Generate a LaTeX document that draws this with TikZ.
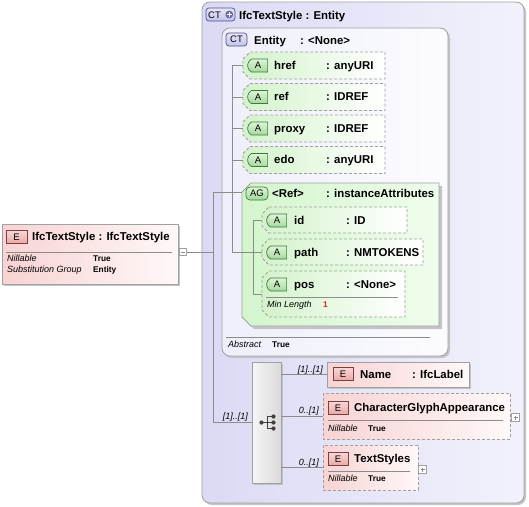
\documentclass[tikz,border=0pt]{standalone}
\usepackage{fontspec}
\setmainfont{Liberation Sans}
\usetikzlibrary{fit,shapes.misc}
\definecolor{lavL}{HTML}{DADAF5}
\definecolor{lavR}{HTML}{F2F2FC}
\definecolor{ctinL}{HTML}{EFEFFB}
\definecolor{ctinR}{HTML}{FBFBFF}
\definecolor{grnL}{HTML}{D3F3CB}
\definecolor{grnR}{HTML}{FFFFFF}
\definecolor{agL}{HTML}{D3F5CC}
\definecolor{agR}{HTML}{EFFDEC}
\definecolor{pnkL}{HTML}{F8D3D3}
\definecolor{pnkR}{HTML}{FFF8F8}
\definecolor{bordg}{HTML}{A0A0A0}
\definecolor{lineg}{HTML}{8C8C8C}
\definecolor{shad}{HTML}{C4C4C8}
\definecolor{ctbT}{HTML}{E6E6FA}
\definecolor{ctbB}{HTML}{C2C2EA}
\definecolor{ctbord}{HTML}{50508A}
\definecolor{abT}{HTML}{DDF5D6}
\definecolor{abB}{HTML}{A6D89E}
\definecolor{abord}{HTML}{3D7A3D}
\definecolor{ebT}{HTML}{F9D6D6}
\definecolor{ebB}{HTML}{EAA8A8}
\definecolor{ebord}{HTML}{7A4040}
\definecolor{seqL}{HTML}{F6F6F6}
\definecolor{seqR}{HTML}{DADADA}
\definecolor{minred}{HTML}{E02020}
\definecolor{icon}{HTML}{404040}

\newcommand\chambox[6]{% style x1 y1 x2 y2 chamfer
  \path[#1] (#2+#6,#3) -- (#4,#3) -- (#4,#5) -- (#2+#6,#5) -- (#2,#5-#6) -- (#2,#3+#6) -- cycle;}

\begin{document}
\begin{tikzpicture}[x=1pt,y=-1pt,
  tt/.style={font=\fontsize{11.4}{13}\selectfont\bfseries, inner sep=0, anchor=base west},
  lab/.style={font=\fontsize{9}{10}\selectfont\itshape, inner sep=0, anchor=base west},
  val/.style={font=\fontsize{8.3}{10}\selectfont\bfseries, inner sep=0, anchor=base west},
  card/.style={font=\fontsize{9}{10}\selectfont\itshape, inner sep=0, anchor=base east},
  btxt/.style={font=\fontsize{9.5}{10}\selectfont, inner sep=0},
  conn/.style={draw=lineg, line width=0.8pt},
  sepl/.style={draw=lineg, line width=0.7pt},
  hold/.style={inner sep=0, draw=none},
  shadowfill/.style={fill=shad, draw=none},
  attrbox/.style={left color=grnL, right color=grnR, draw=bordg, line width=0.8pt, dash pattern=on 3pt off 2pt},
  elemsolid/.style={left color=pnkL, right color=pnkR, draw=bordg, line width=0.8pt},
  elemdash/.style={left color=pnkL, right color=pnkR, draw=bordg, line width=0.8pt, dash pattern=on 3pt off 2pt},
  abadge/.style={rounded rectangle, rounded rectangle right arc=none, rounded rectangle arc length=120, top color=abT, bottom color=abB, draw=abord, line width=0.7pt, minimum width=20, minimum height=13, inner sep=0, font=\fontsize{9.5}{10}\selectfont},
  agbadge/.style={rectangle, rounded corners=4, top color=abT, bottom color=abB, draw=abord, line width=0.7pt, minimum width=22, minimum height=13, inner sep=0, font=\fontsize{9.5}{10}\selectfont},
  ctbadge/.style={rectangle, rounded corners=3, top color=ctbT, bottom color=ctbB, draw=ctbord, line width=0.7pt, minimum height=13, inner sep=0, font=\fontsize{9.5}{10}\selectfont},
  ebadge/.style={rectangle, top color=ebT, bottom color=ebB, draw=ebord, line width=0.7pt, minimum width=20, minimum height=13, inner sep=0, font=\fontsize{9.5}{10}\selectfont},
  pmbox/.style={rectangle, fill=white, draw=bordg, line width=0.6pt, minimum size=7.5, inner sep=0},
]
\useasboundingbox (0,0) rectangle (529,506);
\fill[white] (0,0) rectangle (529,506);

% ---------- outer complex type ----------
\fill[shad, rounded corners=8] (204,4) rectangle (526,505);
\path[left color=lavL, right color=lavR, draw=bordg, line width=0.8pt, rounded corners=8] (202,2) rectangle (524,503);
\node[hold, fit={(202,2)(524,503)}] (ctOuter) {};
\node[ctbadge, minimum width=29] (ctOuterB) at (220.5,14.5) {};
\node[btxt, text=black] at (214.5,14.8) {CT};
\fill[ctbord!85] (229.3,14.5) circle (3.9);
\draw[white, line width=1.3pt] (226.8,14.5) -- (231.8,14.5) (229.3,12) -- (229.3,17);
\node[tt] (ctOuterT) at (239,19) {IfcTextStyle : Entity};

% ---------- Entity complex type ----------
\fill[shad, rounded corners=8] (224,30) rectangle (450,358);
\path[left color=ctinL, right color=ctinR, draw=bordg, line width=0.8pt, rounded corners=8] (222,28) rectangle (448,356);
\node[hold, fit={(222,28)(448,356)}] (ctEnt) {};
\node[ctbadge, minimum width=21] (ctEntB) at (236.5,39.5) {CT};
\node[tt] at (254,44) {Entity};
\node[tt] at (300,44) {: <None>};
\draw[sepl] (226,337) -- (430,337);
\node[lab] at (228,347) {Abstract};
\node[val] at (272,347) {True};

% ---------- attributes ----------
\chambox{attrbox}{243}{52}{385}{79}{7}
\node[hold, fit={(243,52)(385,79)}] (href) {};
\node[abadge] at (258,65.5) {A};
\node[tt] at (274,69) {href};
\node[tt] at (326,69) {: anyURI};

\chambox{attrbox}{243}{83.5}{385}{110.5}{7}
\node[hold, fit={(243,83.5)(385,110.5)}] (ref) {};
\node[abadge] at (258,97) {A};
\node[tt] at (274,100.5) {ref};
\node[tt] at (326,100.5) {: IDREF};

\chambox{attrbox}{243}{115}{385}{142}{7}
\node[hold, fit={(243,115)(385,142)}] (proxy) {};
\node[abadge] at (258,128.5) {A};
\node[tt] at (274,132) {proxy};
\node[tt] at (326,132) {: IDREF};

\chambox{attrbox}{243}{146.5}{385}{173.5}{7}
\node[hold, fit={(243,146.5)(385,173.5)}] (edo) {};
\node[abadge] at (258,160) {A};
\node[tt] at (274,163.5) {edo};
\node[tt] at (326,163.5) {: anyURI};

% ---------- attribute group ----------
\chambox{shadowfill}{245}{186}{442}{329}{9}
\chambox{left color=agL, right color=agR, draw=bordg, line width=0.8pt}{242}{183}{439}{326}{9}
\node[hold, fit={(242,183)(439,326)}] (ag) {};
\node[agbadge] (agB) at (257,193.5) {AG};
\node[tt] at (272,197.5) {<Ref>};
\node[tt] at (326,197.5) {: instanceAttributes};

\chambox{attrbox}{262}{207}{407}{233}{7}
\node[hold, fit={(262,207)(407,233)}] (id) {};
\node[abadge] at (277,220.5) {A};
\node[tt] at (294,224) {id};
\node[tt] at (346,224) {: ID};

\chambox{attrbox}{262}{239}{423}{265}{7}
\node[hold, fit={(262,239)(423,265)}] (path) {};
\node[abadge] at (277,252.5) {A};
\node[tt] at (294,256) {path};
\node[tt] at (346,256) {: NMTOKENS};

\chambox{attrbox}{262}{271}{405}{317}{7}
\node[hold, fit={(262,271)(405,317)}] (pos) {};
\node[abadge] at (277,284.5) {A};
\node[tt] at (294,288) {pos};
\node[tt] at (346,288) {: <None>};
\draw[sepl] (266,297) -- (398,297);
\node[lab] at (267,307) {Min Length};
\node[val, text=minred] at (323,307) {1};

% ---------- root element ----------
\fill[shad] (4,226) rectangle (180,286);
\path[elemsolid] (2,224) rectangle (178,284);
\node[hold, fit={(2,224)(178,284)}] (elem) {};
\node[ebadge, minimum width=21] (elemB) at (16.5,237) {E};
\node[tt] at (32,240.5) {IfcTextStyle : IfcTextStyle};
\draw[sepl] (6,252) -- (172,252);
\node[lab] at (7,261) {Nillable};
\node[val] at (93,261) {True};
\node[lab] at (7,272) {Substitution Group};
\node[val] at (93,272) {Entity};
\node[pmbox] (elemMinus) at (183,252) {};
\draw[lineg, line width=0.6pt] (181,252) -- (185,252);

% ---------- sequence ----------
\fill[shad] (254,364) rectangle (283,485);
\path[left color=seqL, right color=seqR, draw=bordg, line width=0.8pt] (252,362) rectangle (281,483);
\node[hold, fit={(252,362)(281,483)}] (seq) {};
\draw[icon, line width=0.8pt] (261.5,422.5) -- (267,422.5) (267,416.5) -- (267,428.5)
  (267,416.5) -- (273.5,416.5) (267,422.5) -- (273.5,422.5) (267,428.5) -- (273.5,428.5);
\fill[icon] (261.5,422.5) circle (2.1) (273.5,416.5) circle (2.1) (273.5,422.5) circle (2.1) (273.5,428.5) circle (2.1);

% ---------- child elements ----------
\fill[shad] (329,364) rectangle (471,389);
\path[elemsolid] (327,362) rectangle (469,387);
\node[hold, fit={(327,362)(469,387)}] (name) {};
\node[ebadge] at (343,374) {E};
\node[tt] at (360,378) {Name};
\node[tt] at (412,378) {: IfcLabel};

\path[elemdash] (323,393) rectangle (510,439);
\node[hold, fit={(323,393)(510,439)}] (cga) {};
\node[ebadge] at (338,408) {E};
\node[tt] at (354,411.5) {CharacterGlyphAppearance};
\draw[sepl] (328,420) -- (503,420);
\node[lab] at (328,431.5) {Nillable};
\node[val] at (368,431.5) {True};
\node[pmbox] (cgaPlus) at (515.5,417.5) {};
\draw[lineg, line width=0.6pt] (513.5,417.5) -- (517.5,417.5) (515.5,415.5) -- (515.5,419.5);

\path[elemdash] (323,445) rectangle (418,490);
\node[hold, fit={(323,445)(418,490)}] (ts) {};
\node[ebadge] at (338,459) {E};
\node[tt] at (354,462.5) {TextStyles};
\draw[sepl] (328,471) -- (410,471);
\node[lab] at (328,481.5) {Nillable};
\node[val] at (368,481.5) {True};
\node[pmbox] (tsPlus) at (422.5,469.5) {};
\draw[lineg, line width=0.6pt] (420.5,469.5) -- (424.5,469.5) (422.5,467.5) -- (422.5,471.5);

% ---------- connectors ----------
\coordinate (jTop) at (213,192);
\coordinate (jMid) at (213,252);
\coordinate (aTop) at (232,65.5);
\coordinate (aBot) at (232,252);
\coordinate (gTop) at (253,220);
\draw[conn] (elemMinus.east) -- (jMid);
\draw[conn] (jTop) -- (jTop |- seq.west) -- (seq.west);
\draw[conn] (jTop) -- (ag.west |- jTop);
\draw[conn] (aTop) -- (aBot);
\draw[conn] (aTop) -- (href.west);
\draw[conn] (aTop |- ref.west) -- (ref.west);
\draw[conn] (aTop |- proxy.west) -- (proxy.west);
\draw[conn] (aTop |- edo.west) -- (edo.west);
\draw[conn] (aBot) -- (path.west);
\draw[conn] (gTop |- id.west) -- (gTop |- pos.west);
\draw[conn] (gTop |- id.west) -- (id.west);
\draw[conn] (gTop |- pos.west) -- (pos.west);
\draw[conn] (seq.east |- name.west) -- (name.west);
\draw[conn] (seq.east |- cga.west) -- (cga.west);
\draw[conn] (seq.east |- ts.west) -- (ts.west);

\node[card] at (248,419.5) {[1]..[1]};
\node[card] at (323,372) {[1]..[1]};
\node[card] at (319,413.5) {0..[1]};
\node[card] at (319,465) {0..[1]};
\end{tikzpicture}
\end{document}
